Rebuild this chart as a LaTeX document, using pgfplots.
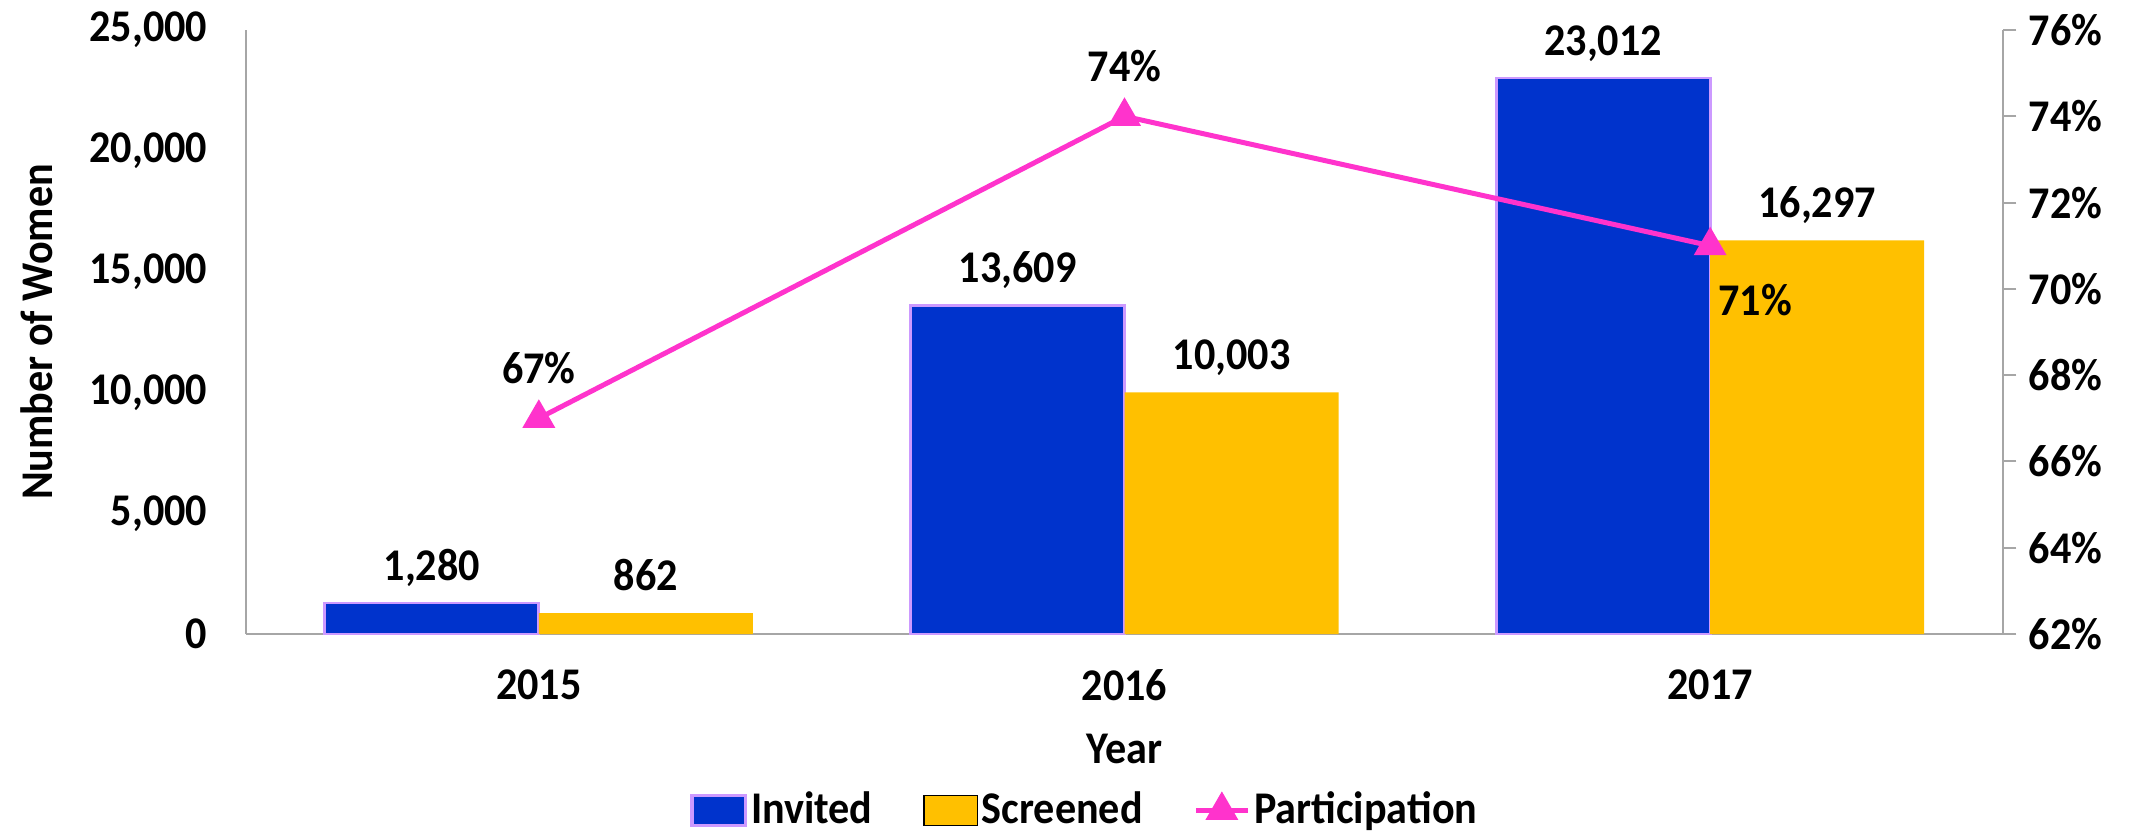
\documentclass[border=0pt]{standalone}
\usepackage{fontspec}
\setmainfont{Carlito}[FakeStretch=0.93]
\usepackage{pgfplots}
\usepackage{pgfplotstable}
\pgfplotsset{compat=1.18}

\definecolor{invblue}{HTML}{0033CC}
\definecolor{invedge}{HTML}{CC99FF}
\definecolor{scrgold}{HTML}{FFC000}
\definecolor{partpink}{HTML}{FF33CC}
\definecolor{axgray}{HTML}{A6A6A6}

% year, invited, screened
\pgfplotstableread{
x invited screened
0 1280  862
1 13609 10003
2 23012 16297
}\counts

% participation rate with label offsets (pt)
\pgfplotstableread{
x rate dx dy
0 67 0 10.5
1 74 0 10.5
2 71 13.5 -21
}\rates

\pgfplotsset{
  base/.style={
    width=527.1pt, height=181.2pt, scale only axis,
    xmin=-0.5, xmax=2.5,
    axis line style={axgray, line width=0.6pt},
    /pgf/number format/assume math mode=true,
    /pgf/number format/1000 sep={,},
  },
  barlegend/.style={legend image code/.code={\draw[##1] (0pt,-4.5pt) rectangle (16pt,4.5pt);}},
  linelegend/.style={legend image code/.code={%
    \draw[##1, mark repeat=2, mark phase=2] plot coordinates {(0pt,0pt) (7.75pt,0pt) (15.5pt,0pt)};}},
}

\begin{document}
\begin{tikzpicture}[font=\fontsize{13.6}{16}\selectfont\bfseries]
\begin{axis}[base,
    axis y line*=left, axis x line*=bottom,
    ybar=0pt, bar width=64.2pt,
    ymin=0, ymax=25000, ytick distance=5000, scaled y ticks=false,
    xtick={0,1,2}, xticklabels={2015,2016,2017},
    xtick style={draw=none}, ytick style={draw=none},
    yticklabel style={anchor=east, inner sep=0pt, xshift=-11.4pt},
    xticklabel style={anchor=center, yshift=-11pt},
    ylabel={Number of Women},
    ylabel style={at={(axis description cs:-0.119,0.5)}, anchor=center},
    xlabel={Year},
    xlabel style={at={(axis description cs:0.5,-0.19)}, anchor=center},
    nodes near coords,
    every node near coord/.append style={anchor=base, yshift=6.8pt, black},
]
\addplot[fill=invblue, draw=invedge, line width=0.8pt] table[x=x, y=invited] {\counts};
\addplot[fill=scrgold, draw=none] table[x=x, y=screened] {\counts};
\end{axis}

\begin{axis}[base,
    axis y line*=right, axis x line=none,
    ymin=62, ymax=76, ytick distance=2,
    yticklabel={\pgfmathprintnumber{\tick}\%},
    tick align=outside, major tick length=4pt,
    ytick style={axgray, line width=0.6pt},
    yticklabel style={anchor=west, inner sep=0pt, xshift=3.5pt},
    legend style={at={(axis description cs:0.478,-0.292)}, anchor=center,
      draw=none, fill=none, legend columns=3,
      /tikz/every even column/.append style={column sep=14pt},
      nodes={inner sep=1.2pt}},
]
\addlegendimage{barlegend, fill=invblue, draw=invedge, line width=1pt}
\addlegendentry{Invited}
\addlegendimage{barlegend, fill=scrgold, draw=none}
\addlegendentry{Screened}
\addplot[partpink, line width=1.5pt, mark=triangle*, mark size=4.2pt,
    linelegend,
    point meta=explicit,
    visualization depends on={\thisrow{dx} \as \dx},
    visualization depends on={\thisrow{dy} \as \dy},
    nodes near coords={\pgfmathprintnumber{\pgfplotspointmeta}\%},
    every node near coord/.append style={anchor=base, xshift=\dx pt, yshift=\dy pt, black},
  ] table[x=x, y=rate, meta=rate] {\rates};
\addlegendentry{Participation}
\end{axis}
\pgfresetboundingbox
\useasboundingbox (-73.8pt,-59.1pt) rectangle (566.4pt,190.2pt);
\end{tikzpicture}
\end{document}
